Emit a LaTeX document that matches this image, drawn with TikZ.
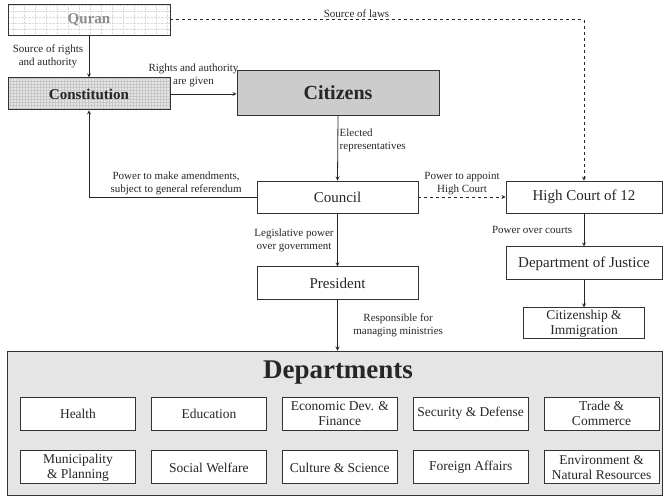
\documentclass[tikz,border=0pt]{standalone}
\usepackage{fontspec}
\setmainfont{Liberation Serif}
\usetikzlibrary{positioning, arrows}
\tikzset{
    box/.style={rectangle, inner sep=0pt, text centered, align=center, draw=black!80, line width=0.9pt, text=black!85, font=\fontsize{15}{18}\selectfont},
    main_box/.style={box, minimum width=161pt, minimum height=32pt},
    dept_box/.style={box, minimum width=115pt, minimum height=33pt, fill=white, font=\fontsize{13.5}{15}\selectfont},
    label_text/.style={align=center, inner sep=1.5pt, text=black!85, font=\fontsize{11}{13}\selectfont},
    arrow/.style={line width=0.8pt, draw=black!85, ->, >=stealth},
    dashed_arrow/.style={arrow, dashed},
    dotted_grid/.style={path picture={\draw[black!14, densely dotted, line width=0.4pt] (path picture bounding box.south west) grid[xstep=11pt, ystep=6pt] (path picture bounding box.north east);}},
    fine_grid/.style={path picture={\draw[black!22, line width=0.25pt] (path picture bounding box.south west) grid[step=3pt] (path picture bounding box.north east);}},
}
\begin{document}
\begin{tikzpicture}[x=1pt, y=-1pt]
    \useasboundingbox (0,0) rectangle (663,496);
    %%%%%%%%%%%%%%%%%%%%%%%%%%
    % SOURCES AND LEGISLATURE %
    %%%%%%%%%%%%%%%%%%%%%%%%%%
    \node (quran) [main_box, minimum width=162pt, minimum height=31pt, fill=white, dotted_grid, text=black!45, font=\fontsize{15}{18}\selectfont\bfseries] at (89,19.5)
        {Quran};
    \node (constitution) [main_box, minimum width=162pt, fill=black!10, fine_grid, font=\fontsize{15}{18}\selectfont\bfseries, below = 42pt of quran]
        {Constitution};
    \node (citizens) [box, minimum width=202pt, minimum height=45pt, fill=gray!40, font=\fontsize{20}{24}\selectfont\bfseries] at (338,92.5)
        {Citizens};
    \node (council) [main_box] at (337.5,197)
        {Council};
    \node (president) [main_box, minimum height=33pt, below = 53pt of council]
        {President};

    %%%%%%%%%%%%%
    % JUDICIARY %
    %%%%%%%%%%%%%
    \node (highcourt) [main_box, minimum width=156pt] at (584,197)
        {High Court of 12};
    \node (justice) [main_box, minimum width=156pt, minimum height=33pt, below = 33pt of highcourt]
        {Department of Justice};
    \node (citizenship) [box, minimum width=121pt, minimum height=31pt, font=\fontsize{13.5}{15}\selectfont, below = 27pt of justice]
        {Citizenship \&\\Immigration};

    %%%%%%%%%%%%%%%
    % DEPARTMENTS %
    %%%%%%%%%%%%%%%
    \node (departments) [box, minimum width=655pt, minimum height=144pt, fill=gray!20] at (334.5,423)
        {};
    \node (dept_title) [text=black!85, font=\fontsize{27}{32}\selectfont\bfseries] at (338,373)
        {Departments};
    \node (health) [dept_box] at (78,413.5)
        {Health};
    \node (education) [dept_box, right = 15pt of health]
        {Education};
    \node (economy) [dept_box, right = 15pt of education]
        {Economic Dev. \&\\Finance};
    \node (security) [dept_box, right = 15pt of economy]
        {Security \& Defense};
    \node (trade) [dept_box, right = 15pt of security]
        {Trade \&\\Commerce};
    \node (municipality) [dept_box, below = 20pt of health]
        {Municipality\\\& Planning};
    \node (welfare) [dept_box, right = 15pt of municipality]
        {Social Welfare};
    \node (culture) [dept_box, right = 15pt of welfare]
        {Culture \& Science};
    \node (foreign) [dept_box, right = 15pt of culture]
        {Foreign Affairs};
    \node (environment) [dept_box, right = 15pt of foreign]
        {Environment \&\\Natural Resources};

    %%%%%%%%%%
    % ARROWS %
    %%%%%%%%%%
    \draw [arrow] (quran) -- (constitution)
        node (l_rights) [label_text, midway, left, xshift=-4pt] {Source of rights\\and authority};
    \draw [dashed_arrow] (quran.east) -| (highcourt.north)
        node (l_laws) [label_text, pos=0.225, above] {Source of laws};
    \draw [arrow] (constitution.east) -- (citizens.west |- constitution.east)
        node (l_given) [label_text, midway, above, xshift=-10pt, yshift=5pt] {Rights and authority\\are given};
    \draw [arrow] (citizens.south) -- (council.north)
        node (l_elected) [label_text, pos=0.38, right, align=left] {Elected\\representatives};
    \draw [arrow] (council.west) -| (constitution.south)
        node (l_amend) [label_text, pos=0.24, above] {Power to make amendments,\\subject to general referendum};
    \draw [dashed_arrow] (council.east) -- (highcourt.west)
        node (l_appoint) [label_text, midway, above] {Power to appoint\\High Court};
    \draw [arrow] (council.south) -- (president.north)
        node (l_legis) [label_text, midway, left, xshift=-2pt] {Legislative power\\over government};
    \draw [arrow] (president.south) -- (president.south |- departments.north)
        node (l_manage) [label_text, midway, right, xshift=14pt] {Responsible for\\managing ministries};
    \draw [arrow] (highcourt.south) -- (justice.north)
        node (l_courts) [label_text, midway, left, xshift=-10pt] {Power over courts};
    \draw [arrow] (justice.south) -- (citizenship.north);
\end{tikzpicture}
\end{document}
